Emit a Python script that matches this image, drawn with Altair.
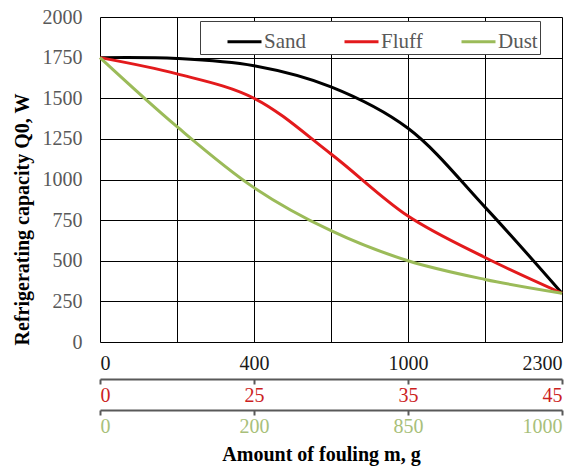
import altair as alt
import pandas as pd

# ---- data ----
x_index = [0, 1, 2, 3, 4, 5, 6]
sand = [1750, 1745, 1700, 1570, 1315, 830, 300]
fluff = [1750, 1650, 1500, 1157, 775, 520, 300]
dust = [1750, 1325, 950, 685, 500, 385, 300]
series_names = ["Sand", "Fluff", "Dust"]
series_colors = ["#000000", "#e31a1c", "#9bbb59"]

sand_ticks = ["0", "", "400", "", "1000", "", "2300"]
fluff_ticks = ["0", "", "25", "", "35", "", "45"]
dust_ticks = ["0", "", "200", "", "850", "", "1000"]
y_ticks = [0, 250, 500, 750, 1000, 1250, 1500, 1750, 2000]

rows = []
for name, vals in zip(series_names, [sand, fluff, dust]):
    for i, v in zip(x_index, vals):
        rows.append({"i": i, "series": name, "value": v})
df = pd.DataFrame(rows)

FONT = "Liberation Serif"


def label_expr(labels):
    return "[" + ",".join("'" + s + "'" for s in labels) + "][datum.value]"


y_scale = alt.Scale(domain=[0, 2000], nice=False)
y_axis = alt.Axis(
    values=y_ticks,
    format="d",
    grid=True,
    gridColor="#000000",
    gridWidth=1,
    domain=False,
    ticks=False,
    labelPadding=18,
    labelFont=FONT,
    labelFontSize=20,
    labelColor="#595959",
    title="Refrigerating capacity Q0, W",
    titleFont=FONT,
    titleFontSize=20,
    titleFontWeight="bold",
    titleColor="#000000",
    titlePadding=10,
    titleY=202,
)

lines = alt.Chart(df).mark_line(interpolate="catmull-rom", strokeWidth=3).encode(
    x=alt.X(
        "i:Q",
        scale=alt.Scale(domain=[0, 6], nice=False),
        axis=alt.Axis(
            orient="bottom",
            values=x_index,
            labelExpr=label_expr(sand_ticks),
            grid=True,
            gridColor="#000000",
            gridWidth=1,
            domain=False,
            ticks=False,
            labelPadding=11,
            labelFont=FONT,
            labelFontSize=20,
            labelColor="#1a1a1a",
            title=None,
        ),
    ),
    y=alt.Y("value:Q", scale=y_scale, axis=y_axis),
    color=alt.Color(
        "series:N",
        scale=alt.Scale(domain=series_names, range=series_colors),
        sort=series_names,
        legend=alt.Legend(
            title=None,
            orient="none",
            legendX=100,
            legendY=4,
            direction="horizontal",
            symbolType="stroke",
            symbolSize=1156,
            symbolStrokeWidth=3,
            symbolOffset=24,
            labelFont=FONT,
            labelFontSize=21,
            labelColor="#595959",
            labelOffset=1,
            columnPadding=13,
            padding=2,
            strokeColor="#404040",
            fillColor="#ffffff",
        ),
    ),
)


def extra_axis(labels, color, offset, title=None):
    ax = dict(
        orient="bottom",
        offset=offset,
        values=[0, 2, 4, 6],
        labelExpr=label_expr(labels),
        grid=False,
        domain=True,
        domainColor="#595959",
        domainWidth=2,
        ticks=True,
        tickColor="#595959",
        tickWidth=2,
        tickSize=5,
        labelPadding=1,
        labelFont=FONT,
        labelFontSize=20,
        labelColor=color,
    )
    if title is not None:
        ax.update(
            title=title,
            titleFont=FONT,
            titleFontSize=20,
            titleFontWeight="bold",
            titleColor="#000000",
            titlePadding=8,
            titleX=221,
        )
    else:
        ax.update(title=None)
    return (
        alt.Chart(df)
        .mark_point(opacity=0)
        .encode(
            x=alt.X("i:Q", scale=alt.Scale(domain=[0, 6], nice=False), axis=alt.Axis(**ax)),
            y=alt.Y("value:Q", scale=y_scale, axis=None),
        )
    )


fluff_axis = extra_axis(fluff_ticks, "#cc1f1f", 37)
dust_axis = extra_axis(dust_ticks, "#a8bf7a", 68, title="Amount of fouling m, g")

chart = (
    alt.layer(lines, fluff_axis, dust_axis)
    .resolve_scale(x="independent")
    .resolve_axis(x="independent", y="independent")
    .properties(
        width=462,
        height=325,
        autosize=alt.AutoSizeParams(type="none"),
        padding={"left": 100, "top": 17, "right": 13, "bottom": 126},
    )
    .configure_view(stroke="#000000", strokeWidth=2)
    .configure_axis(labelFont=FONT, titleFont=FONT)
    .configure_legend(labelFont=FONT)
    .configure(background="#ffffff")
)

chart.save("out.html", embed_options={"renderer": "svg", "actions": False})
